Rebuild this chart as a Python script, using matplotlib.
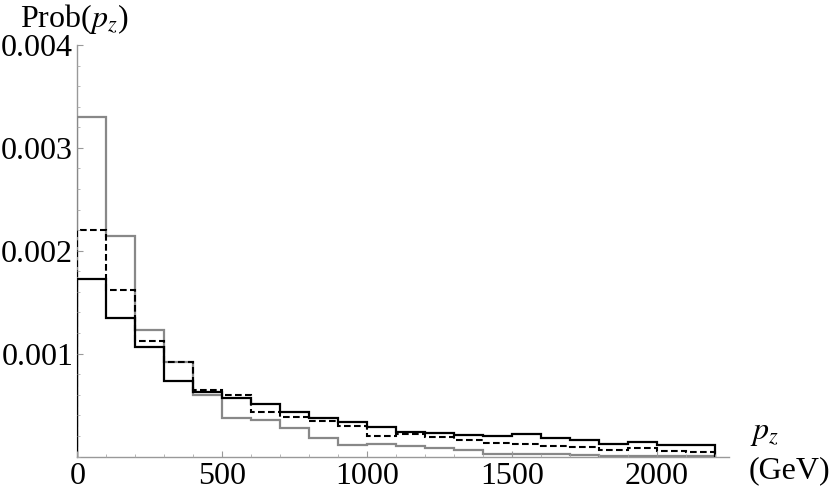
import numpy as np
import matplotlib
matplotlib.use("Agg")
import matplotlib.pyplot as plt
from matplotlib.ticker import MultipleLocator, FixedLocator

# bin edges (GeV)
bin_edges = list(range(0, 2300, 100))

# probabilities per bin
gray_vals = [3.30e-3, 2.147e-3, 1.228e-3, 0.92e-3, 0.602e-3, 0.378e-3, 0.350e-3, 0.281e-3,
             0.175e-3, 0.110e-3, 0.117e-3, 0.100e-3, 0.078e-3, 0.061e-3, 0.029e-3, 0.029e-3,
             0.029e-3, 0.013e-3, 0.004e-3, 0.005e-3, 0.003e-3, 0.002e-3]
dashed_vals = [2.205e-3, 1.62e-3, 1.124e-3, 0.916e-3, 0.644e-3, 0.595e-3, 0.430e-3, 0.382e-3,
               0.343e-3, 0.297e-3, 0.197e-3, 0.217e-3, 0.190e-3, 0.158e-3, 0.132e-3, 0.122e-3,
               0.103e-3, 0.090e-3, 0.064e-3, 0.078e-3, 0.058e-3, 0.045e-3]
black_vals = [1.73e-3, 1.348e-3, 1.06e-3, 0.734e-3, 0.627e-3, 0.569e-3, 0.514e-3, 0.433e-3,
              0.379e-3, 0.336e-3, 0.287e-3, 0.239e-3, 0.229e-3, 0.207e-3, 0.200e-3, 0.219e-3,
              0.184e-3, 0.165e-3, 0.122e-3, 0.139e-3, 0.107e-3, 0.113e-3]

y_ticks = [0.001, 0.002, 0.003, 0.004]
y_ticklabels = ["0.001", "0.002", "0.003", "0.004"]
x_ticks = [0, 500, 1000, 1500, 2000]
x_ticklabels = ["0", "500", "1000", "1500", "2000"]

plt.rcParams['font.family'] = ['Liberation Serif', 'DejaVu Serif']
plt.rcParams['mathtext.fontset'] = 'stix'

FS = 23

fig = plt.figure(figsize=(8.30, 4.99), dpi=100)
ax = fig.add_axes([77.3/830, 1 - 456.5/499, (729 - 77.3)/830, (456.5 - 45)/499])

edges = np.array(bin_edges, dtype=float)
ax.stairs(gray_vals, edges, color='#888888', linewidth=1.6, baseline=0)
ax.stairs(dashed_vals, edges, color='black', linewidth=1.5, linestyle=(0, (3.2, 1.6)), baseline=0)
ax.stairs(black_vals, edges, color='black', linewidth=1.6, baseline=0)

ax.set_xlim(0, 2250)
ax.set_ylim(0, 0.004)

for s in ['top', 'right']:
    ax.spines[s].set_visible(False)
for s in ['left', 'bottom']:
    ax.spines[s].set_color('#999999')
    ax.spines[s].set_linewidth(1.0)
    ax.spines[s].set_zorder(0.5)

ax.yaxis.set_major_locator(FixedLocator(y_ticks))
ax.set_yticklabels(y_ticklabels)
ax.yaxis.set_minor_locator(MultipleLocator(0.0002))
ax.xaxis.set_major_locator(FixedLocator(x_ticks))
ax.set_xticklabels(x_ticklabels)
ax.xaxis.set_minor_locator(MultipleLocator(100))

ax.tick_params(which='major', direction='in', length=4.5, width=0.8, color='#999999',
               labelsize=FS)
ax.tick_params(which='minor', direction='in', length=2.5, width=0.6, color='#aaaaaa')
ax.tick_params(axis='y', pad=3)
ax.tick_params(axis='x', pad=4)

fig.text(20/830, 1 - 19/499, r"Prob($p_z$)", fontsize=FS, ha='left', va='center')
fig.text(765/830, 1 - 433/499, r"$p_z$", fontsize=FS, ha='center', va='center')
fig.text(789/830, 1 - 471/499, "(GeV)", fontsize=FS, ha='center', va='center')

fig.savefig("out.png", dpi=100)
